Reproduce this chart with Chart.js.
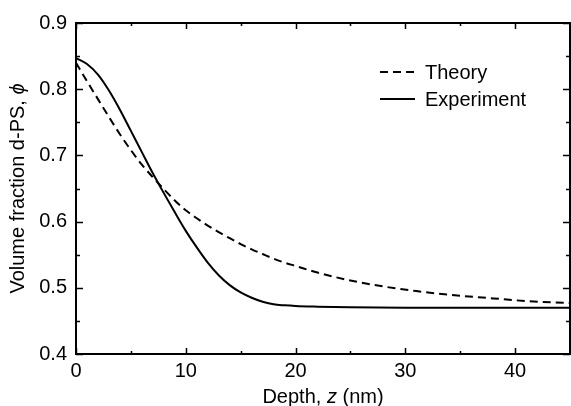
<!DOCTYPE html>
<html>
<head>
<meta charset="utf-8">
<script src="https://cdn.jsdelivr.net/npm/chart.js@4"></script>
<style>
  html, body { margin: 0; padding: 0; background: #fff; }
  #wrap { width: 571px; height: 406px; }
</style>
</head>
<body>
<div id="wrap"><canvas id="chartPerfil"></canvas></div>
<script>
// valores
var depthTheory = [0, 1, 2, 3, 4, 5, 6, 7, 8, 9, 10, 11, 12, 13, 14, 15, 16, 17, 18, 19, 20, 22, 25, 28, 31, 35, 38, 41, 45];
var phiTheory   = [0.840, 0.812, 0.785, 0.758, 0.732, 0.708, 0.686, 0.667, 0.649, 0.632, 0.617, 0.605, 0.594, 0.584, 0.575, 0.566, 0.558, 0.551, 0.544, 0.538, 0.533, 0.523, 0.511, 0.502, 0.495, 0.488, 0.484, 0.480, 0.477];
var depthExp = [0, 1, 2, 3, 4, 5, 6, 7, 8, 9, 10, 11, 12, 13, 14, 15, 16, 17, 18, 19, 20, 22, 25, 30, 35, 40, 45];
var phiExp   = [0.847, 0.838, 0.822, 0.798, 0.769, 0.737, 0.705, 0.673, 0.643, 0.614, 0.586, 0.561, 0.538, 0.519, 0.504, 0.493, 0.485, 0.479, 0.475, 0.4735, 0.4725, 0.4715, 0.4705, 0.470, 0.470, 0.470, 0.470];
var xTicks = [0, 10, 20, 30, 40];
var yTicks = [0.4, 0.5, 0.6, 0.7, 0.8, 0.9];
var lbl = ["Theory", "Experiment"];
var xTitle = ["Depth, ", "z", " (nm)"];
var yTitle = ["Volume fraction d-PS, ", "\u03d5"];

var FONT = '"Liberation Sans", Arial, Helvetica, sans-serif';

function pts(xs, ys) {
  var out = [];
  for (var i = 0; i < xs.length; i++) out.push({x: xs[i], y: ys[i]});
  return out;
}

// escreve partes alternando normal / italico, centrado em (0,0)
function mixedText(ctx, parts, size) {
  var w = 0, ws = [];
  for (var i = 0; i < parts.length; i++) {
    ctx.font = (i % 2 ? 'italic ' : '') + size + 'px ' + FONT;
    ws.push(ctx.measureText(parts[i]).width);
    w += ws[i];
  }
  var x = -w / 2;
  for (var j = 0; j < parts.length; j++) {
    ctx.font = (j % 2 ? 'italic ' : '') + size + 'px ' + FONT;
    ctx.fillText(parts[j], x, 0);
    x += ws[j];
  }
}

var moldura = {
  id: 'moldura',
  afterDatasetsDraw: function (chart) {
    var ctx = chart.ctx, a = chart.chartArea;
    var sx = chart.scales.x, sy = chart.scales.y;
    ctx.save();
    ctx.strokeStyle = '#000';
    ctx.lineWidth = 1.5;
    ctx.beginPath();
    // ticks para dentro, nos quatro lados
    for (var v = 0; v <= 45; v += 5) {
      var px = Math.round(sx.getPixelForValue(v)) + 0.5;
      var len = (v % 10 === 0) ? 6 : 3;
      ctx.moveTo(px, a.bottom); ctx.lineTo(px, a.bottom - len);
      ctx.moveTo(px, a.top); ctx.lineTo(px, a.top + len);
    }
    for (var k = 0; k <= 10; k++) {
      var val = 0.4 + k * 0.05;
      var py = Math.round(sy.getPixelForValue(val)) + 0.5;
      var l2 = (k % 2 === 0) ? 7 : 4;
      ctx.moveTo(a.left, py); ctx.lineTo(a.left + l2, py);
      ctx.moveTo(a.right, py); ctx.lineTo(a.right - l2, py);
    }
    ctx.stroke();
    ctx.lineWidth = 2;
    ctx.strokeRect(a.left, a.top, a.right - a.left, a.bottom - a.top);

    // legenda
    ctx.fillStyle = '#000';
    ctx.textBaseline = 'middle';
    ctx.textAlign = 'left';
    ctx.font = '20px ' + FONT;
    var ly = [72, 99];
    chart.data.datasets.forEach(function (ds, i) {
      ctx.setLineDash(ds.borderDash || []);
      ctx.lineWidth = 2;
      ctx.beginPath();
      ctx.moveTo(380, ly[i]); ctx.lineTo(415, ly[i]);
      ctx.stroke();
      ctx.setLineDash([]);
      ctx.fillText(ds.label, 425, ly[i] + 1);
    });

    // titulos dos eixos
    ctx.textAlign = 'left';
    ctx.save();
    ctx.translate((a.left + a.right) / 2, 397);
    mixedText(ctx, xTitle, 20);
    ctx.restore();
    ctx.save();
    ctx.translate(18, (a.top + a.bottom) / 2);
    ctx.rotate(-Math.PI / 2);
    mixedText(ctx, yTitle, 20);
    ctx.restore();
    ctx.restore();
  }
};

function plot() {
  var ctxPerfil = document.getElementById("chartPerfil");
  new Chart(ctxPerfil, {
    type: 'scatter',
    data: {
      datasets: [{
        label: lbl[0],
        data: pts(depthTheory, phiTheory),
        showLine: true,
        borderColor: '#000',
        borderWidth: 2,
        borderDash: [8, 5],
        pointRadius: 0,
        cubicInterpolationMode: 'monotone'
      }, {
        label: lbl[1],
        data: pts(depthExp, phiExp),
        showLine: true,
        borderColor: '#000',
        borderWidth: 2,
        pointRadius: 0,
        cubicInterpolationMode: 'monotone'
      }]
    },
    options: {
      responsive: true,
      maintainAspectRatio: false,
      animation: false,
      layout: { padding: { top: 23, right: 1, left: 0, bottom: 0 } },
      plugins: {
        legend: { display: false },
        tooltip: { enabled: false }
      },
      scales: {
        x: {
          type: 'linear',
          min: 0, max: 45,
          grid: { display: false, drawTicks: false },
          border: { display: false },
          afterBuildTicks: function (s) { s.ticks = xTicks.map(function (v) { return {value: v}; }); },
          afterFit: function (s) { s.height = 52; },
          ticks: {
            color: '#000', padding: 5, maxRotation: 0,
            font: { family: FONT, size: 20 },
            callback: function (v) { return String(v); }
          }
        },
        y: {
          type: 'linear',
          min: 0.4, max: 0.9,
          grid: { display: false, drawTicks: false },
          border: { display: false },
          afterBuildTicks: function (s) { s.ticks = yTicks.map(function (v) { return {value: v}; }); },
          afterFit: function (s) { s.width = 76; },
          ticks: {
            color: '#000', padding: 9,
            font: { family: FONT, size: 20 },
            callback: function (v) { return v.toFixed(1); }
          }
        }
      }
    },
    plugins: [moldura]
  });
}

plot();
</script>
</body>
</html>
